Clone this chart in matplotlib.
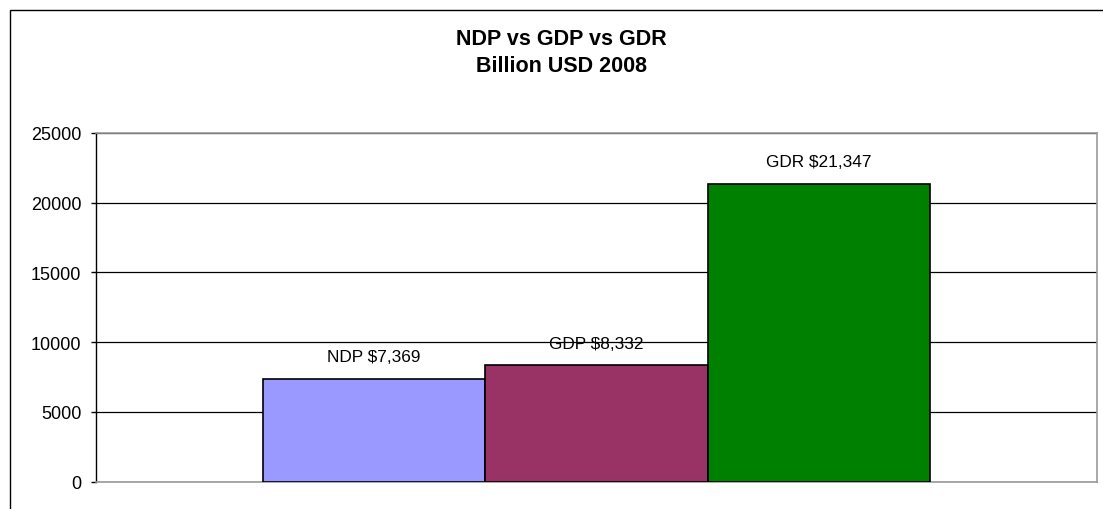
import matplotlib.pyplot as plt
from matplotlib.patches import Rectangle

plt.rcParams['font.family'] = ['Liberation Sans', 'DejaVu Sans']

series = ["NDP", "GDP", "GDR"]
values = [7369, 8332, 21347]
colors = ["#9999FF", "#993366", "#008000"]
y_ticks = [0, 5000, 10000, 15000, 20000, 25000]

W, H = 1103, 510
fig = plt.figure(figsize=(W / 100, H / 100), dpi=100)
ax = fig.add_axes([96 / W, (H - 482.7) / H, 1001 / W, 348.7 / H])

# outer chart frame (right and bottom edges fall outside the image)
fig.patches.append(Rectangle((10 / W, -0.2), 1.1, 1.2 - 11 / H, transform=fig.transFigure,
                             fill=False, edgecolor="black", linewidth=1.0, clip_on=False))

positions = [i - 1 for i in range(len(series))]
ax.bar(positions, values, width=1.0, color=colors, edgecolor="black", linewidth=1.2, zorder=3)

for x, name, v in zip(positions, series, values):
    ax.annotate(f"{name} ${v:,}", (x, v), xytext=(0, 16), textcoords="offset points",
                ha="center", va="center", fontsize=12.4, color="black")

ax.set_xlim(-2.25, 2.25)
ax.set_ylim(0, 25000)
ax.set_yticks(y_ticks)
ax.set_xticks([])
ax.tick_params(axis="y", length=3.6, width=1.0, pad=7, labelsize=13, colors="black")

ax.set_axisbelow(True)
ax.grid(axis="y", color="black", linewidth=0.9)
for side in ["top", "right", "bottom"]:
    ax.spines[side].set_color("#999999")
    ax.spines[side].set_linewidth(1.2)
ax.spines["left"].set_color("black")
ax.spines["left"].set_linewidth(1.0)

fig.text(561 / W, 1 - 53 / H, "NDP vs GDP vs GDR\nBillion USD 2008", ha="center", va="center",
         fontsize=15.5, fontweight="bold", linespacing=1.4)

fig.savefig("out.png", dpi=100, facecolor="white")
